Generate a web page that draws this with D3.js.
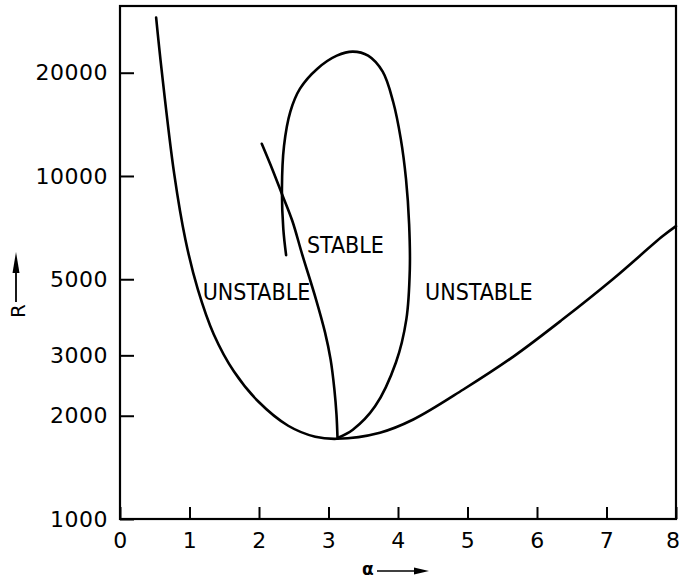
<!DOCTYPE html>
<html>
<head>
<meta charset="utf-8">
<script src="https://cdn.jsdelivr.net/npm/d3@7"></script>
<style>
  body { margin: 0; background: #fff; }
  svg { display: block; }
  .tick text { font-family: "DejaVu Sans", sans-serif; font-size: 22px; fill: #000; letter-spacing: 0.5px; }
  .tick line { stroke: #000; stroke-width: 2; }
  .curve { fill: none; stroke: #000; stroke-width: 2.6; stroke-linecap: round; }
  .region { font-family: "DejaVu Sans Condensed", "DejaVu Sans", sans-serif; font-size: 23px; fill: #000; }
</style>
</head>
<body>
<div id="viz"></div>
<script>
const width = 679;
const height = 580;
const plot = { left: 120, right: 676, top: 6, bottom: 519 };

// outer neutral curve
const neutralAlpha = [0.52, 0.60, 0.78, 0.94, 1.12, 1.35, 1.64, 1.99, 2.42, 2.81, 3.12, 3.74, 4.22, 4.94, 5.66, 6.37, 7.09, 7.81, 8.0];
const neutralR = [28970, 20280, 10140, 6540, 4670, 3450, 2690, 2200, 1870, 1737, 1713, 1785, 1950, 2385, 2975, 3820, 5000, 6680, 7140];

// inner loop round the stable region
const loopAlpha = [3.14, 3.35, 3.67, 3.97, 4.12, 4.17, 4.16, 4.115, 4.04, 3.93, 3.78, 3.57, 3.35, 3.12, 2.84, 2.59, 2.45, 2.36, 2.33, 2.35, 2.39];
const loopR = [1725, 1820, 2130, 2860, 3820, 5350, 7240, 9800, 12830, 16460, 20140, 22430, 23050, 22430, 20550, 17970, 15390, 12240, 9160, 7000, 5880];

// line crossing the loop
const crossAlpha = [2.04, 2.19, 2.33, 2.48, 2.62, 2.82, 2.95, 3.03, 3.085, 3.115, 3.13];
const crossR = [12410, 10480, 8860, 7390, 5920, 4370, 3500, 2920, 2385, 2015, 1715];

const xTicks = [0, 1, 2, 3, 4, 5, 6, 7, 8];
const yTicks = [1000, 2000, 3000, 5000, 10000, 20000];

const svg = d3.select("#viz")
  .append("svg")
  .attr("width", width)
  .attr("height", height);

const x = d3.scaleLinear().domain([0, 8]).range([plot.left, plot.right]);
const y = d3.scaleLog().domain([1000, 31300]).range([plot.bottom, plot.top]);

// frame
svg.append("rect")
  .attr("x", plot.left)
  .attr("y", plot.top)
  .attr("width", plot.right - plot.left)
  .attr("height", plot.bottom - plot.top)
  .attr("fill", "none")
  .attr("stroke", "#000")
  .attr("stroke-width", 2.2);

// axes, ticks drawn inward
const xAxis = svg.append("g")
  .attr("transform", "translate(0," + plot.bottom + ")")
  .call(d3.axisBottom(x).tickValues(xTicks).tickSize(-12).tickPadding(13).tickFormat(d3.format("d")));
xAxis.select(".domain").remove();
// last label sits against the page edge
xAxis.selectAll(".tick text").filter(d => d === 8).attr("text-anchor", "end").attr("dx", 4);

const yAxis = svg.append("g")
  .attr("transform", "translate(" + plot.left + ",0)")
  .call(d3.axisLeft(y).tickValues(yTicks).tickSize(-14).tickPadding(12).tickFormat(d3.format("d")));
yAxis.select(".domain").remove();

// curves
const line = d3.line()
  .x(d => x(d[0]))
  .y(d => y(d[1]))
  .curve(d3.curveCatmullRom.alpha(0.5));

const curves = [
  d3.zip(neutralAlpha, neutralR),
  d3.zip(loopAlpha, loopR),
  d3.zip(crossAlpha, crossR)
];

svg.selectAll(".curve")
  .data(curves)
  .enter()
  .append("path")
  .attr("class", "curve")
  .attr("d", line);

// region labels
const labels = [
  { text: "UNSTABLE", a: 1.19, r: 4350 },
  { text: "STABLE", a: 2.69, r: 5950 },
  { text: "UNSTABLE", a: 4.39, r: 4350 }
];
svg.selectAll(".region")
  .data(labels)
  .enter()
  .append("text")
  .attr("class", "region")
  .attr("x", d => x(d.a))
  .attr("y", d => y(d.r))
  .text(d => d.text);

// axis titles with arrows
svg.append("text")
  .attr("x", 362)
  .attr("y", 575)
  .attr("font-family", "DejaVu Sans, sans-serif")
  .attr("font-size", 17)
  .attr("font-weight", "bold")
  .text("α");
svg.append("line")
  .attr("x1", 377).attr("y1", 571).attr("x2", 418).attr("y2", 571)
  .attr("stroke", "#000").attr("stroke-width", 1.6);
svg.append("path")
  .attr("d", "M429,571 L414,567.5 L414,574.5 Z")
  .attr("fill", "#000");

svg.append("text")
  .attr("transform", "translate(25,318) rotate(-90)")
  .attr("font-family", "DejaVu Sans, sans-serif")
  .attr("font-size", 20)
  .text("R");
svg.append("line")
  .attr("x1", 16).attr("y1", 302).attr("x2", 16).attr("y2", 265)
  .attr("stroke", "#000").attr("stroke-width", 1.8);
svg.append("path")
  .attr("d", "M16,252 L12.5,273 L19.5,273 Z")
  .attr("fill", "#000");
</script>
</body>
</html>
